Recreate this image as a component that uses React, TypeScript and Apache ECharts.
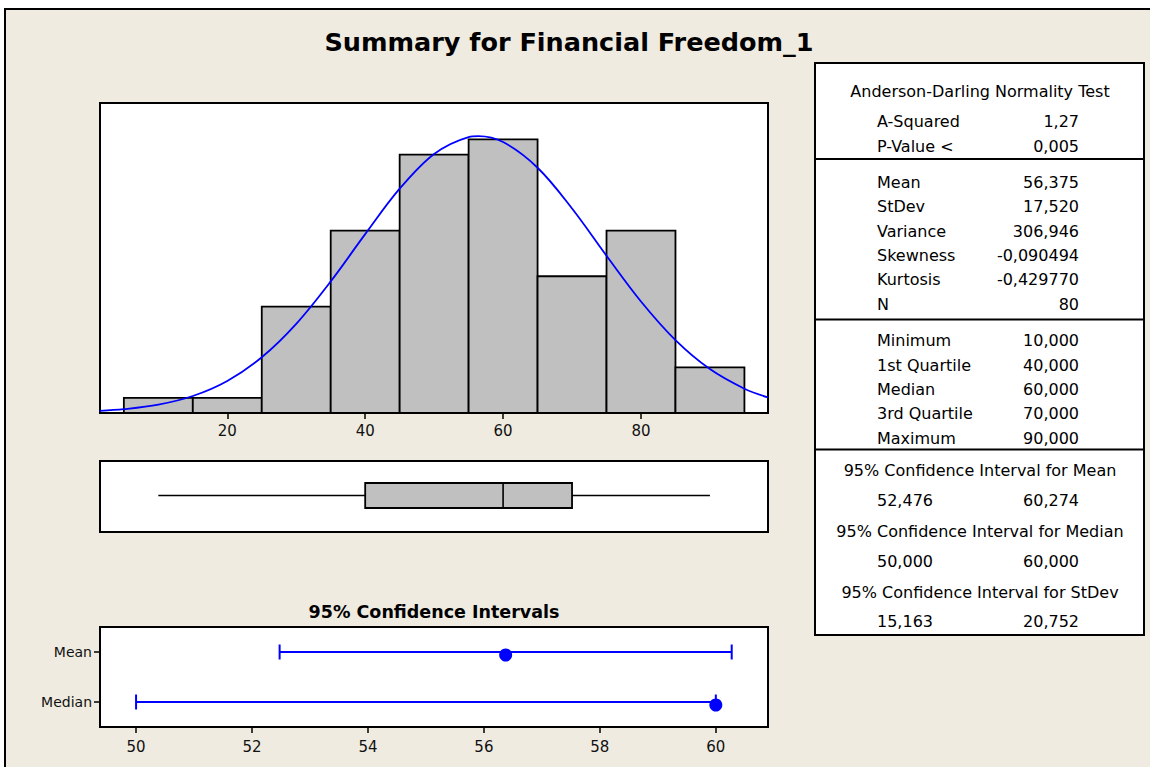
import React, { useEffect, useRef } from 'react';
import * as echarts from 'echarts';

// ---------- data ----------
const TITLE = 'Summary for Financial Freedom_1';
const CI_TITLE = '95% Confidence Intervals';

const binStarts = [5, 15, 25, 35, 45, 55, 65, 75, 85];
const binWidth = 10;
const binCounts = [1, 1, 7, 12, 17, 18, 9, 12, 3];
const histTicks = [20, 40, 60, 80];

// fitted normal curve (expected counts per bin)
const curveX = [1.5, 5, 10, 15, 20, 25, 30, 35, 40, 45, 50, 55, 56.4, 60, 65, 70, 75, 80, 85, 90, 95, 98.4];
const curveY = [0.14, 0.25, 0.55, 1.12, 2.11, 3.67, 5.87, 8.66, 11.77, 14.76, 17.05, 18.16, 18.22, 17.83, 16.14, 13.46, 10.35, 7.34, 4.8, 2.89, 1.6, 1.03];

// min, Q1, median, Q3, max
const boxStats = [10, 40, 60, 70, 90];

const ciCategories = ['Median', 'Mean'];
const ciLow = [50, 52.476];
const ciHigh = [60, 60.274];
const ciEstimate = [60, 56.375];
const ciTicks = [50, 52, 54, 56, 58, 60];

const adHeader = 'Anderson-Darling Normality Test';
const adLabels = ['A-Squared', 'P-Value <'];
const adValues = ['1,27', '0,005'];
const momentLabels = ['Mean', 'StDev', 'Variance', 'Skewness', 'Kurtosis', 'N'];
const momentValues = ['56,375', '17,520', '306,946', '-0,090494', '-0,429770', '80'];
const quantLabels = ['Minimum', '1st Quartile', 'Median', '3rd Quartile', 'Maximum'];
const quantValues = ['10,000', '40,000', '60,000', '70,000', '90,000'];
const ciHeaders = [
  '95% Confidence Interval for Mean',
  '95% Confidence Interval for Median',
  '95% Confidence Interval for StDev',
];
const ciTableLow = ['52,476', '50,000', '15,163'];
const ciTableHigh = ['60,274', '60,000', '20,752'];

// ---------- component ----------
export default function App() {
  const ref = useRef<HTMLDivElement>(null);

  useEffect(() => {
    const chart = echarts.init(ref.current!, null, { renderer: 'svg' });
    const FF = '"DejaVu Sans", Verdana, sans-serif';
    const BLUE = '#0000FF';

    const txt = (text: string, x: number, y: number, align: string, font: string) => ({
      type: 'text',
      x,
      y,
      z: 100,
      style: {
        text,
        font,
        fill: '#000',
        textAlign: align,
        align,
        textVerticalAlign: 'middle',
        verticalAlign: 'middle',
      },
    });

    const TF = `16px ${FF}`;
    const labelX = 877;
    const valueX = 1079;
    const headX = 980;
    const tableEls: any[] = [];
    tableEls.push(txt(adHeader, headX, 91, 'center', TF));
    adLabels.forEach((l, i) => {
      tableEls.push(txt(l, labelX, 121 + i * 25.5, 'left', TF));
      tableEls.push(txt(adValues[i], valueX, 121 + i * 25.5, 'right', TF));
    });
    momentLabels.forEach((l, i) => {
      tableEls.push(txt(l, labelX, 182.3 + i * 24.4, 'left', TF));
      tableEls.push(txt(momentValues[i], valueX, 182.3 + i * 24.4, 'right', TF));
    });
    quantLabels.forEach((l, i) => {
      tableEls.push(txt(l, labelX, 340.7 + i * 24.4, 'left', TF));
      tableEls.push(txt(quantValues[i], valueX, 340.7 + i * 24.4, 'right', TF));
    });
    ciHeaders.forEach((h, i) => {
      tableEls.push(txt(h, headX, 470 + i * 61, 'center', TF));
      tableEls.push(txt(ciTableLow[i], labelX, 500.5 + i * 60.6, 'left', TF));
      tableEls.push(txt(ciTableHigh[i], valueX, 500.5 + i * 60.6, 'right', TF));
    });

    const tickStyle = { color: '#000', width: 1.5 };
    const labelStyle = { color: '#111', fontFamily: FF, fontSize: 15 };

    const option: any = {
      animation: false,
      backgroundColor: '#fff',
      graphic: [
        {
          type: 'rect',
          z: -100,
          shape: { x: 5, y: 9, width: 1200, height: 800 },
          style: { fill: '#EFEBE0', stroke: '#000', lineWidth: 2 },
        },
        {
          type: 'rect',
          z: 50,
          shape: { x: 815, y: 63, width: 329, height: 572 },
          style: { fill: '#fff', stroke: '#000', lineWidth: 2 },
        },
        { type: 'line', z: 60, shape: { x1: 815, y1: 159, x2: 1144, y2: 159 }, style: { stroke: '#000', lineWidth: 2 } },
        { type: 'line', z: 60, shape: { x1: 815, y1: 319.5, x2: 1144, y2: 319.5 }, style: { stroke: '#000', lineWidth: 2 } },
        { type: 'line', z: 60, shape: { x1: 815, y1: 449.5, x2: 1144, y2: 449.5 }, style: { stroke: '#000', lineWidth: 2 } },
        txt(TITLE, 569, 42, 'center', `bold 25.5px ${FF}`),
        txt(CI_TITLE, 434, 612, 'center', `bold 17.5px ${FF}`),
        ...tableEls,
      ],
      grid: [
        { left: 100, top: 103, width: 668, height: 310, show: true, backgroundColor: '#fff', borderColor: '#000', borderWidth: 2 },
        { left: 100, top: 461, width: 668, height: 71, show: true, backgroundColor: '#fff', borderColor: '#000', borderWidth: 2 },
        { left: 100, top: 627, width: 668, height: 100, show: true, backgroundColor: '#fff', borderColor: '#000', borderWidth: 2 },
      ],
      xAxis: [
        {
          gridIndex: 0,
          type: 'value',
          min: 1.54,
          max: 98.42,
          splitLine: { show: false },
          axisLine: { show: false },
          axisTick: { show: true, customValues: histTicks, length: 6, lineStyle: tickStyle },
          axisLabel: { customValues: histTicks, margin: 10, ...labelStyle },
        },
        { gridIndex: 1, type: 'value', min: 1.54, max: 98.42, show: false },
        {
          gridIndex: 2,
          type: 'value',
          min: 49.378,
          max: 60.9,
          splitLine: { show: false },
          axisLine: { show: false },
          axisTick: { show: true, customValues: ciTicks, length: 6, lineStyle: tickStyle },
          axisLabel: { customValues: ciTicks, margin: 12, ...labelStyle },
        },
      ],
      yAxis: [
        { gridIndex: 0, type: 'value', min: 0, max: 20.4, show: false },
        { gridIndex: 1, type: 'value', min: 0, max: 1, show: false },
        {
          gridIndex: 2,
          type: 'category',
          data: ciCategories,
          axisLine: { show: false },
          splitLine: { show: false },
          axisTick: { show: true, alignWithLabel: true, length: 6, lineStyle: tickStyle },
          axisLabel: { margin: 8, ...labelStyle, fontSize: 14 },
        },
      ],
      series: [
        {
          type: 'custom',
          xAxisIndex: 0,
          yAxisIndex: 0,
          data: binStarts.map((s, i) => [s, s + binWidth, binCounts[i]]),
          encode: { x: [0, 1], y: 2 },
          renderItem: (params: any, api: any) => {
            const p0 = api.coord([api.value(0), api.value(2)]);
            const p1 = api.coord([api.value(1), 0]);
            return {
              type: 'rect',
              shape: { x: p0[0], y: p0[1], width: p1[0] - p0[0], height: p1[1] - p0[1] },
              style: { fill: '#C0C0C0', stroke: '#000', lineWidth: 1.8 },
            };
          },
          z: 2,
        },
        {
          type: 'line',
          xAxisIndex: 0,
          yAxisIndex: 0,
          data: curveX.map((x, i) => [x, curveY[i]]),
          symbol: 'none',
          smooth: 0.35,
          lineStyle: { color: BLUE, width: 1.8 },
          z: 3,
        },
        {
          type: 'custom',
          xAxisIndex: 1,
          yAxisIndex: 1,
          data: [boxStats],
          encode: { x: [0, 1, 2, 3, 4] },
          renderItem: (params: any, api: any) => {
            const c = (v: number) => api.coord([v, 0.5]);
            const pMin = c(api.value(0));
            const pQ1 = c(api.value(1));
            const pMed = c(api.value(2));
            const pQ3 = c(api.value(3));
            const pMax = c(api.value(4));
            const cy = pMin[1] - 1;
            const h = 12.5;
            const ls = { stroke: '#000', lineWidth: 1.6 };
            return {
              type: 'group',
              children: [
                { type: 'line', shape: { x1: pMin[0], y1: cy, x2: pQ1[0], y2: cy }, style: ls },
                { type: 'line', shape: { x1: pQ3[0], y1: cy, x2: pMax[0], y2: cy }, style: ls },
                {
                  type: 'rect',
                  shape: { x: pQ1[0], y: cy - h, width: pQ3[0] - pQ1[0], height: 2 * h },
                  style: { fill: '#C0C0C0', stroke: '#000', lineWidth: 1.8 },
                },
                { type: 'line', shape: { x1: pMed[0], y1: cy - h, x2: pMed[0], y2: cy + h }, style: ls },
              ],
            };
          },
        },
        {
          type: 'custom',
          xAxisIndex: 2,
          yAxisIndex: 2,
          data: ciCategories.map((c, i) => [i, ciLow[i], ciHigh[i]]),
          encode: { x: [1, 2], y: 0 },
          renderItem: (params: any, api: any) => {
            const a = api.coord([api.value(1), api.value(0)]);
            const b = api.coord([api.value(2), api.value(0)]);
            const hc = 7.5;
            const ls = { stroke: BLUE, lineWidth: 2 };
            return {
              type: 'group',
              children: [
                { type: 'line', shape: { x1: a[0], y1: a[1], x2: b[0], y2: b[1] }, style: ls },
                { type: 'line', shape: { x1: a[0], y1: a[1] - hc, x2: a[0], y2: a[1] + hc }, style: ls },
                { type: 'line', shape: { x1: b[0], y1: b[1] - hc, x2: b[0], y2: b[1] + hc }, style: ls },
              ],
            };
          },
        },
        {
          type: 'scatter',
          xAxisIndex: 2,
          yAxisIndex: 2,
          data: ciCategories.map((c, i) => [ciEstimate[i], i]),
          symbol: 'circle',
          symbolSize: 13,
          symbolOffset: [0, 3],
          itemStyle: { color: BLUE, opacity: 1 },
          z: 5,
        },
      ],
    };

    chart.setOption(option);
    return () => chart.dispose();
  }, []);

  return (
    <div
      ref={ref}
      style={{ position: 'absolute', left: 0, top: 0, width: 1150, height: 767 }}
    />
  );
}
